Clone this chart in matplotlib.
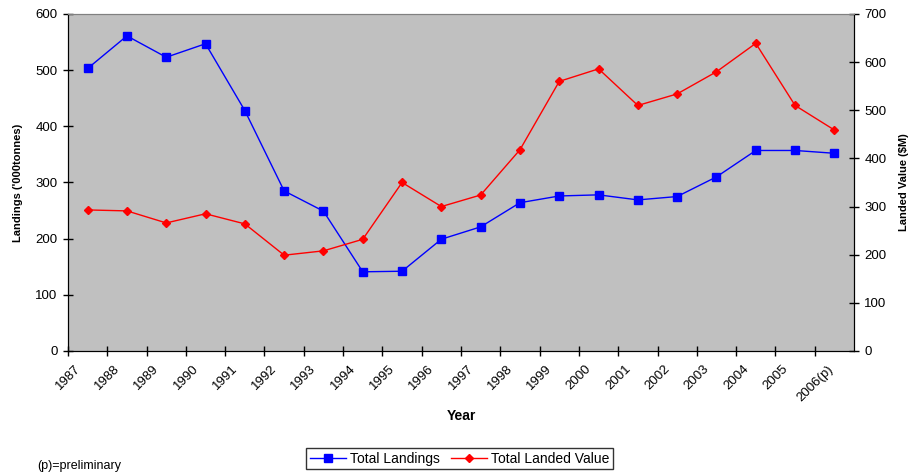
import numpy as np
import matplotlib
matplotlib.use("Agg")
import matplotlib.pyplot as plt

plt.rcParams['font.family'] = ['Liberation Sans', 'DejaVu Sans']

years = ['1987', '1988', '1989', '1990', '1991', '1992', '1993', '1994', '1995', '1996',
         '1997', '1998', '1999', '2000', '2001', '2002', '2003', '2004', '2005', '2006(p)']
landings = [503, 561, 523, 547, 428, 285, 249, 141, 142, 199,
            221, 264, 276, 278, 269, 275, 310, 357, 357, 352]
landed_value = [293, 291, 266, 285, 264, 199, 208, 232, 350, 300,
                324, 418, 560, 586, 510, 534, 580, 639, 510, 459]

fig = plt.figure(figsize=(9.1, 4.74), dpi=100)
ax = fig.add_axes([0.0747, 0.2595, 0.8638, 0.711])
ax2 = ax.twinx()

x = np.arange(len(years)) + 0.5
ax.set_facecolor('#C0C0C0')
l1, = ax.plot(x, landings, color='#0000FF', lw=1, marker='s', ms=5.5, label='Total Landings')
l2, = ax2.plot(x, landed_value, color='#FF0000', lw=1, marker='D', ms=4.5, label='Total Landed Value')

ax.set_xlim(0, len(years))
ax.set_ylim(0, 600)
ax2.set_ylim(0, 700)
ax.set_yticks(range(0, 601, 100))
ax2.set_yticks(range(0, 701, 100))
ax.set_xticks(np.arange(len(years)))
ax.set_xticklabels(years, rotation=45, ha='center', va='top')

for a in (ax, ax2):
    a.tick_params(direction='inout', length=7, width=1, labelsize=9.5, pad=4)
ax.tick_params(axis='x', pad=5)
ax.spines['top'].set_color('#808080')
ax2.spines['top'].set_color('#808080')

ax.set_ylabel("Landings ('000tonnes)", fontsize=8, fontweight='bold', labelpad=9)
ax2.set_ylabel("Landed Value ($M)", fontsize=8, fontweight='bold', labelpad=9)
ax.set_xlabel('Year', fontsize=10, fontweight='bold', labelpad=4)

leg = fig.legend(handles=[l1, l2], loc='center', bbox_to_anchor=(0.505, 0.032), ncol=2,
                 frameon=True, fancybox=False, fontsize=10, handlelength=2.6,
                 borderpad=0.25, columnspacing=0.8, handletextpad=0.3)
leg.get_frame().set_edgecolor('black')
leg.get_frame().set_linewidth(1)

fig.text(0.041, 0.01, '(p)=preliminary', fontsize=9)

fig.savefig('out.png', dpi=100)
